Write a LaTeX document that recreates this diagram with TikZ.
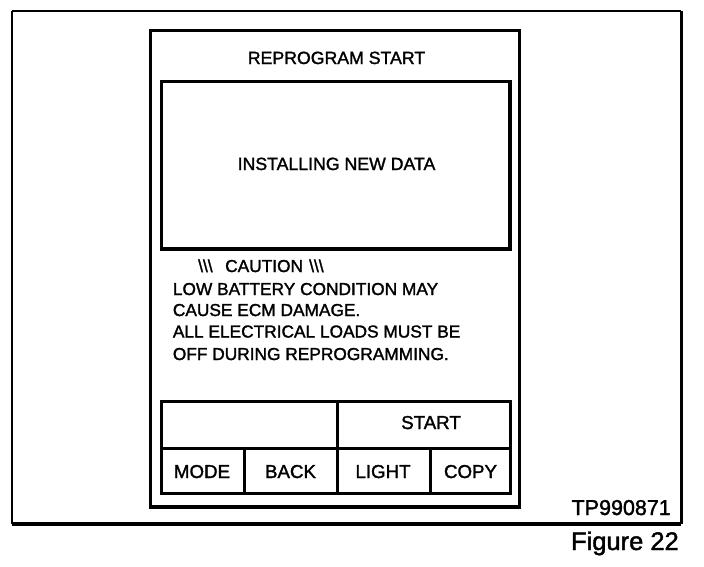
\documentclass[tikz,border=0pt]{standalone}
\usepackage{fontspec}
\setmainfont{Liberation Sans}[FakeBold=1.6]
\begin{document}
\begin{tikzpicture}[x=1pt,y=-1pt,
  txt/.style={inner sep=0pt,font=\fontsize{17.3}{20}\selectfont},
  ttl/.style={inner sep=0pt,anchor=base,font=\fontsize{17.7}{20}\selectfont},
  btn/.style={inner sep=0pt,anchor=base,font=\fontsize{18.7}{21}\selectfont},
  frame/.style={draw=black,line width=3.3pt},
  grid/.style={draw=black,line width=3pt}]
\useasboundingbox (0,0) rectangle (704,566);
% outer frame
\coordinate (oTL) at (12,11);
\coordinate (oTR) at (681,11);
\coordinate (oBL) at (12,524);
\coordinate (oBR) at (681,524);
\draw[line width=2.2pt] (oTL) -- (oBL);
\draw[line width=2pt] (oTL) -- (oTR);
\draw[line width=3pt] (oTR) -- (oBR);
\draw[line width=4pt] (oBL) -- (oBR);
% device
\draw[frame] (150.8,30.3) rectangle (519.5,507);
% screen
\draw[frame] (161.7,81.7) rectangle (510,249);
% table
\coordinate (tTL) at (161.5,401.5);
\coordinate (tBR) at (510.5,493);
\draw[grid] (tTL) rectangle (tBR);
\draw[grid] (161.5,448) -- (510.5,448);
\draw[grid] (337.5,401.5) -- (337.5,493);
\draw[grid] (244.5,448) -- (244.5,493);
\draw[grid] (430.5,448) -- (430.5,493);
% texts
\node[ttl] (title) at (336.5,64) {REPROGRAM START};
\node[ttl] (inst) at (336.5,170) {INSTALLING NEW DATA};
\node[txt,anchor=base west] (bs1) at (198,272) {\textbackslash\textbackslash\textbackslash};
\node[txt,anchor=base west] (caut) at (225,272) {CAUTION};
\node[txt,anchor=base west] (bs2) at (309,272) {\textbackslash\textbackslash\textbackslash};
\node[txt,anchor=base west] (l1) at (172.7,295) {LOW BATTERY CONDITION MAY};
\node[txt,anchor=base west] (l2) at (172.7,316) {CAUSE ECM DAMAGE.};
\node[txt,anchor=base west] (l3) at (172.7,337.5) {ALL ELECTRICAL LOADS MUST BE};
\node[txt,anchor=base west] (l4) at (172.7,360) {OFF DURING REPROGRAMMING.};
\node[btn] (start) at (431,429) {START};
\node[btn] (mode) at (202,478) {MODE};
\node[btn] (back) at (290.5,478) {BACK};
\node[btn] (light) at (383,478) {LIGHT};
\node[btn] (copy) at (470.5,478) {COPY};
\node[inner sep=0pt,anchor=base east,font=\fontsize{21.5}{24}\selectfont] (tp) at (671,515) {TP990871};
\node[inner sep=0pt,anchor=base east,font=\fontsize{25.5}{28}\selectfont] (fig) at (679,550) {Figure 22};
\end{tikzpicture}
\end{document}
